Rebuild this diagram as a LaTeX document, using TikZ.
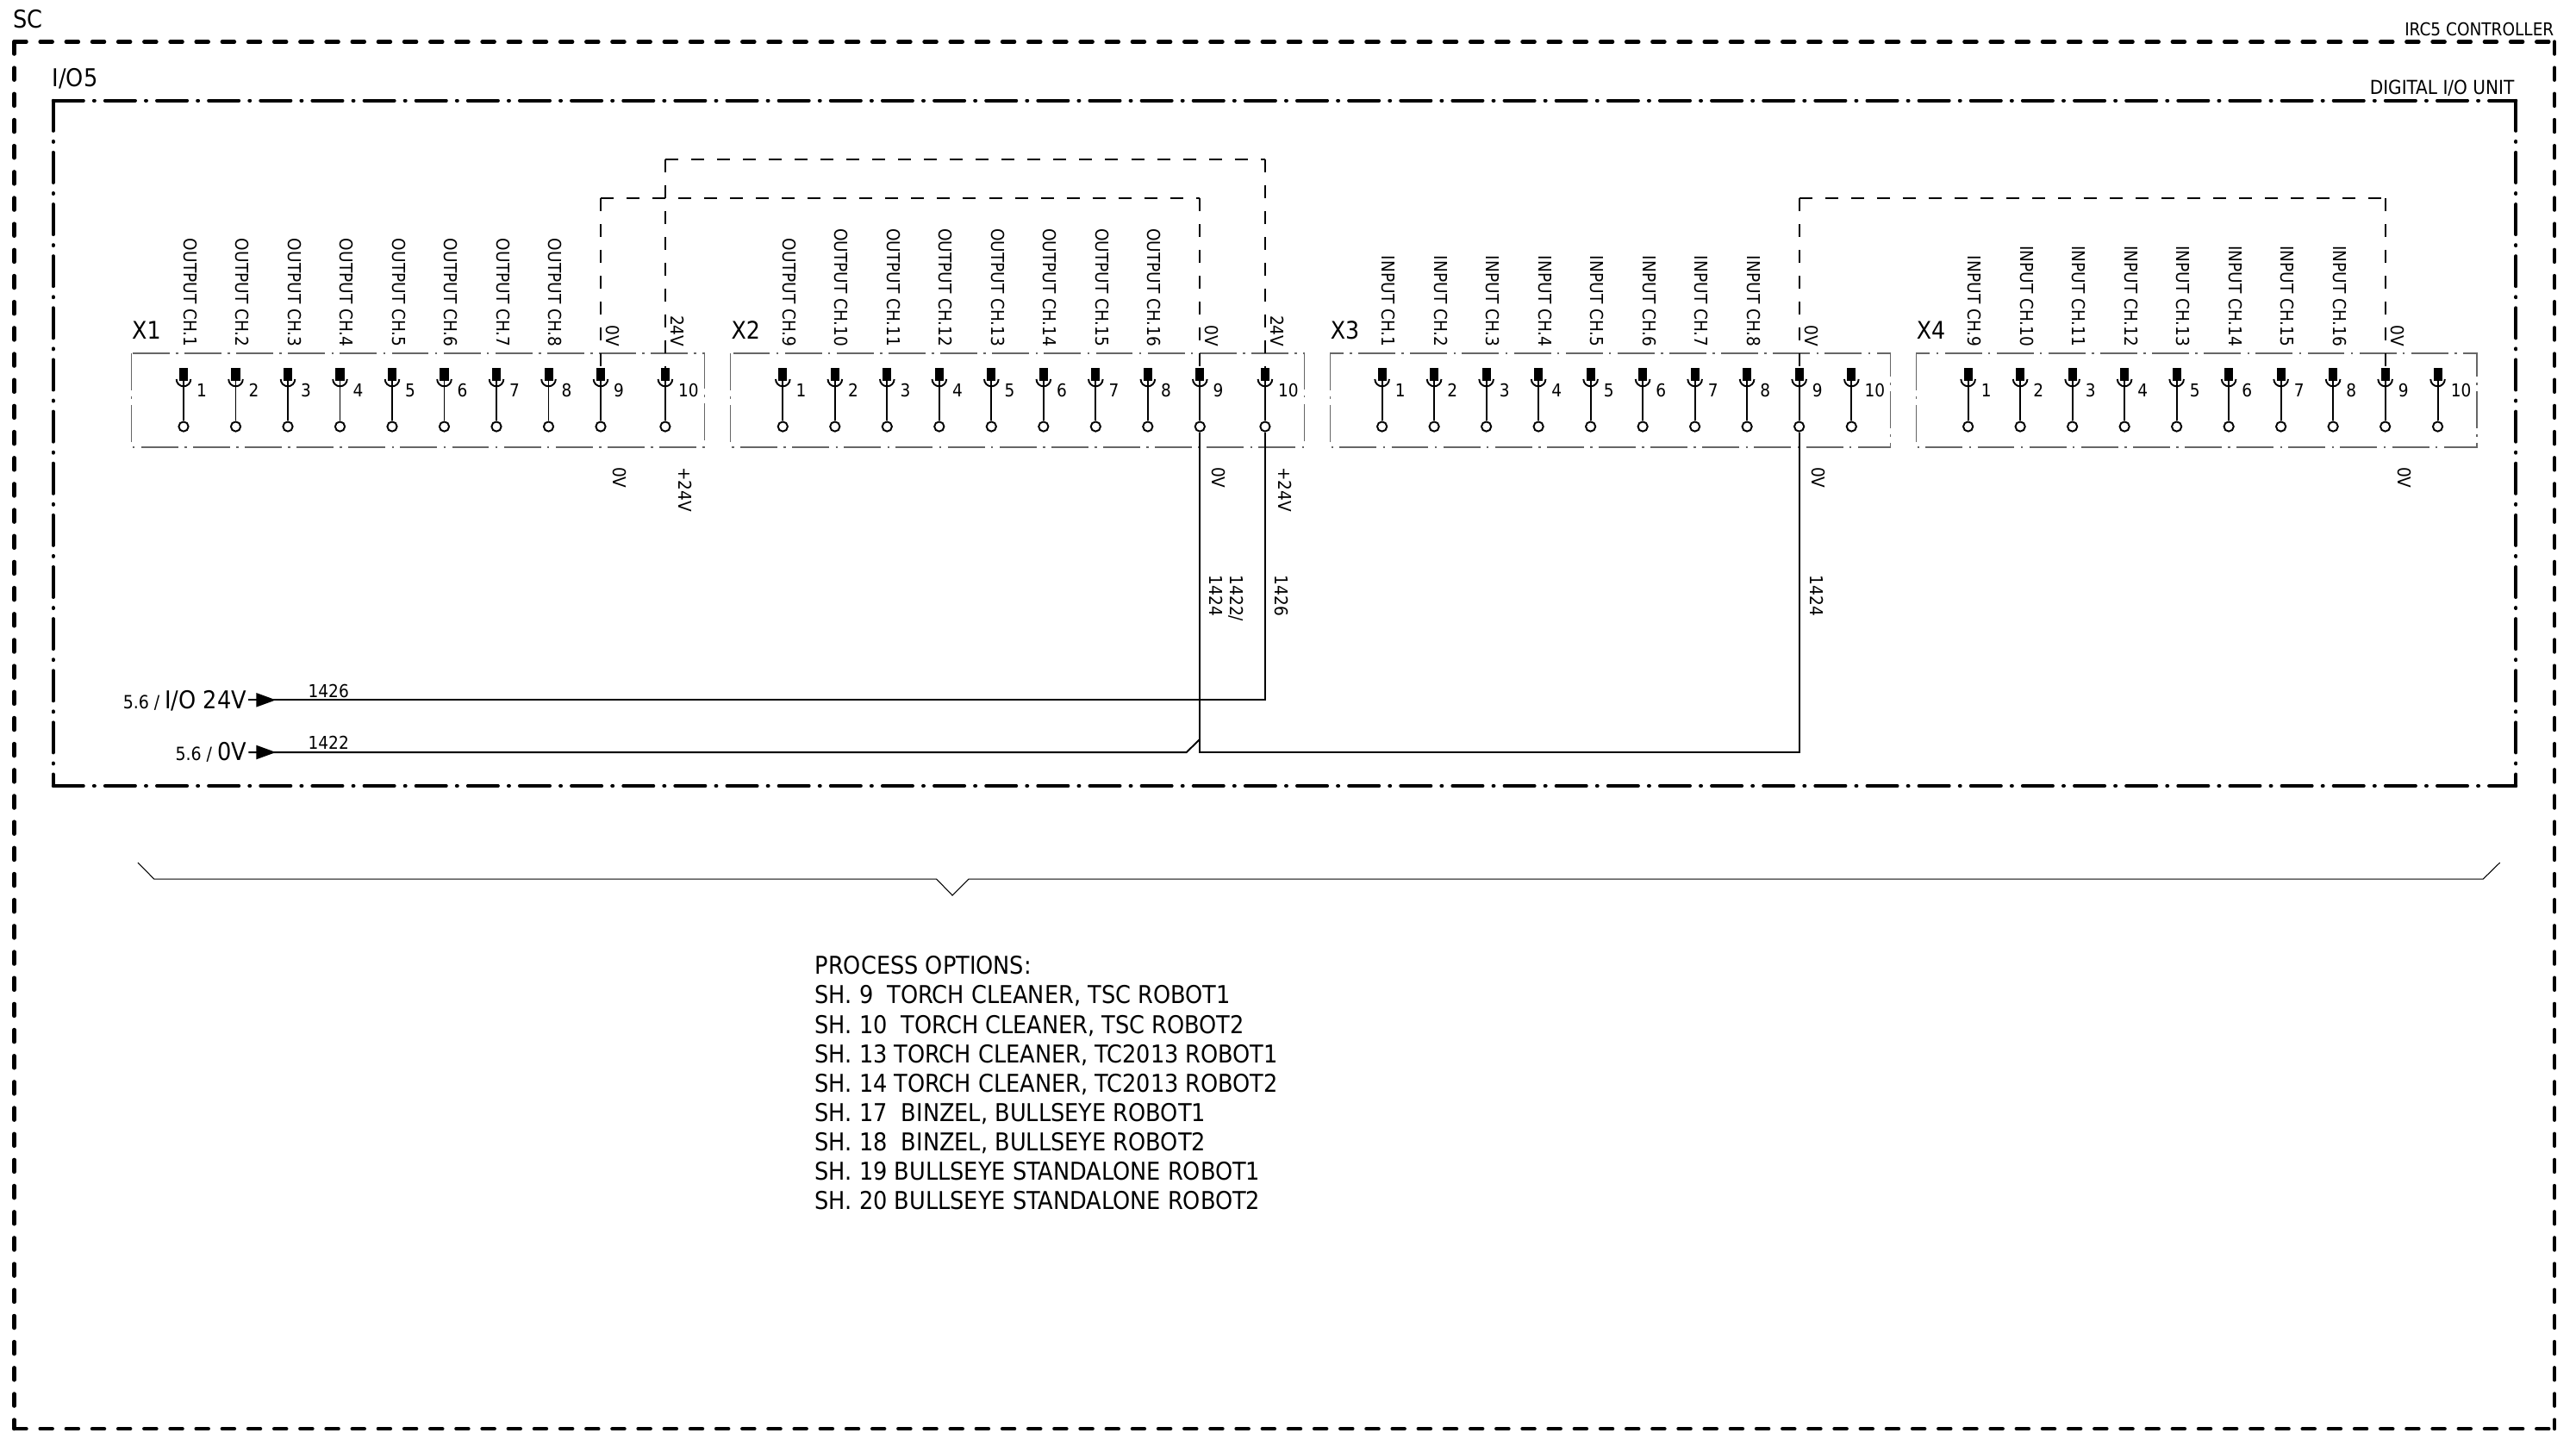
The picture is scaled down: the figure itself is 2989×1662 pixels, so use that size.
\documentclass[tikz,border=0pt]{standalone}
\usepackage{fontspec}
\setmainfont{DejaVu Sans Condensed}
\usetikzlibrary{calc}
\begin{document}
\begin{tikzpicture}[x=0.01cm,y=-0.01cm]
    \tikzstyle{framedash}=[line width=1.28pt, line cap=round, dash pattern=on 3.98pt off 4.6pt]
    \tikzstyle{framedot}=[line width=1.1pt, line cap=round, dash pattern=on 10pt off 3.4pt on 0.3pt off 3.4pt]
    \tikzstyle{stripbox}=[line width=0.35pt, draw=black!60, dash pattern=on 12.2pt off 2.1pt on 0.7pt off 2.1pt]
    \tikzstyle{jumper}=[line width=0.55pt, dash pattern=on 4.27pt off 4.27pt]
    \tikzstyle{wire}=[line width=0.55pt]
    \tikzstyle{small}=[inner sep=0pt, font=\fontsize{5.85pt}{6.6pt}\selectfont]
    \tikzstyle{big}=[inner sep=0pt, font=\fontsize{8.1pt}{9.7pt}\selectfont]
    \tikzstyle{turned}=[small, rotate=-90]
    \tikzstyle{pinhead}=[fill=black, inner sep=0pt, minimum width=2.85pt, minimum height=4.1pt]
    \tikzstyle{pinring}=[draw, circle, line width=0.55pt, fill=white, inner sep=0pt, minimum size=3.2pt]

    \useasboundingbox (0,0) rectangle (2989,1662);

    % Draw frames
    \coordinate (scTL) at (16.5,48.5);
    \coordinate (scTR) at (2964,48.5);
    \coordinate (scBR) at (2964,1658);
    \coordinate (scBL) at (16.5,1658);
    \coordinate (ioTL) at (61.7,116.7);
    \coordinate (ioTR) at (2919.3,116.7);
    \coordinate (ioBR) at (2919.3,912);
    \coordinate (ioBL) at (61.7,912);
    \foreach \a/\b in {scTL/scTR, scTR/scBR, scTL/scBL, scBL/scBR} {
        \draw[framedash] (\a) -- (\b);
    }
    \foreach \a/\b in {ioTL/ioTR, ioTR/ioBR, ioTL/ioBL, ioBL/ioBR} {
        \draw[framedot] (\a) -- (\b);
    }
    \node[big, anchor=base west] (sclabel) at (15,32) {SC};
    \node[big, anchor=base west] (iolabel) at (60,100) {I/O5};
    \node[small, anchor=base east] (sctitle) at (2964,41) {IRC5 CONTROLLER};
    \node[small, anchor=base east, font=\fontsize{6.35pt}{7pt}\selectfont] (iotitle) at (2918,109) {DIGITAL I/O UNIT};

    % Draw terminal strips
    \foreach \strip/\xa/\xb/\word/\ch in {X1/213/771.9/OUTPUT/0, X2/908.3/1467.9/OUTPUT/8, X3/1603.6/2148.3/INPUT/0, X4/2283.6/2828.5/INPUT/8} {
        \draw[stripbox] (\xa-60.5,410) rectangle (\xb+45.4,519);
        \node[big, anchor=base west, font=\fontsize{8pt}{9pt}\selectfont] (\strip-name) at (\xa-60.5,393) {\strip};
        \foreach \n in {1,...,10} {
            \pgfmathsetmacro{\tx}{\n<10 ? \xa+(\n-1)*60.5 : \xb}
            \node[pinhead] (\strip-head\n) at (\tx,434.5) {};
            \node[pinring] (\strip-ring\n) at (\tx,495) {};
            \draw[wire] (\tx-8.3,440) arc[start angle=180, end angle=360, x radius=8.3, y radius=-8.3];
            \draw[wire] (\strip-head\n.south) -- (\strip-ring\n.north);
            \node[small, anchor=west] (\strip-num\n) at (\tx+14.5,453) {\n};
        }
        \foreach \n in {1,...,8} {
            \pgfmathtruncatemacro{\c}{\n+\ch}
            \node[turned, anchor=east] (\strip-ch\n) at ($(\strip-head\n)+(7.5,-31.5)$) {\word\ CH.\c};
        }
        \node[turned, anchor=east] (\strip-top9) at ($(\strip-head9)+(14,-31.5)$) {0V};
        \node[turned, anchor=west] (\strip-low9) at ($(\strip-head9)+(22,107)$) {0V};
    }
    \foreach \strip in {X1,X2} {
        \node[turned, anchor=east] (\strip-top10) at ($(\strip-head10)+(14.7,-31.5)$) {24V};
        \node[turned, anchor=west] (\strip-low10) at ($(\strip-head10)+(23,107)$) {+24V};
    }

    % Add jumpers
    \coordinate (bus0V) at (0,230);
    \coordinate (bus24V) at (0,185);
    \coordinate (ja) at (X1-head9.north |- bus0V);
    \coordinate (jb) at (X2-head9.north |- bus0V);
    \coordinate (jc) at (X1-head10.north |- bus24V);
    \coordinate (jd) at (X2-head10.north |- bus24V);
    \coordinate (je) at (X3-head9.north |- bus0V);
    \coordinate (jf) at (X4-head9.north |- bus0V);
    \foreach \a/\b in {ja/X1-head9.north, ja/jb, jb/X2-head9.north, jc/X1-head10.north, jc/jd, jd/X2-head10.north, je/X3-head9.north, je/jf, jf/X4-head9.north} {
        \draw[jumper] (\a) -- (\b);
    }

    % Add supply feeds
    \coordinate (feed24) at (288.3,812.3);
    \coordinate (feed0) at (288.3,873);
    \coordinate (tip24) at (320,812.3);
    \coordinate (tip0) at (320,873);
    \coordinate (kinka) at (1376.7,873);
    \coordinate (kinkb) at (1392.3,857.7);
    \coordinate (kinkc) at (1392.3,873);
    \draw[wire] (feed24) -- (tip24) -- (X2-ring10.south |- tip24) -- (X2-ring10.south);
    \draw[wire] (feed0) -- (tip0) -- (kinka) -- (kinkb);
    \draw[wire] (X2-ring9.south) -- (kinkc) -- (X3-ring9.south |- kinkc) -- (X3-ring9.south);
    \fill (297.3,804) -- (tip24) -- (297.3,820.6) -- cycle;
    \fill (297.3,864.7) -- (tip0) -- (297.3,881.3) -- cycle;
    \node[big, anchor=base east] (io24) at (286.7,822.7) {{\fontsize{6pt}{6pt}\selectfont 5.6 / }I/O 24V};
    \node[big, anchor=base east] (io0) at (286.7,882.7) {{\fontsize{6pt}{6pt}\selectfont 5.6 / }0V};
    \node[small, anchor=base west] (w1426) at (357,809) {1426};
    \node[small, anchor=base west] (w1422) at (357,869) {1422};

    % Add wire numbers
    \node[turned, anchor=north west, align=left] (w1424a) at (1443,667) {1422/\\1424};
    \node[turned, anchor=north west] (w1426b) at (1495,667) {1426};
    \node[turned, anchor=north west] (w1424b) at (2116,667) {1424};

    % Add brace
    \coordinate (bracea) at (160,1001);
    \coordinate (braceb) at (178.7,1020);
    \coordinate (bracec) at (1086.5,1020);
    \coordinate (braced) at (1105,1039);
    \coordinate (bracee) at (1124,1020);
    \coordinate (bracef) at (2881.3,1020);
    \coordinate (braceg) at (2900.7,1001);
    \draw[line width=0.3pt] (bracea) -- (braceb) -- (bracec) -- (braced) -- (bracee) -- (bracef) -- (braceg);

    % Add process list
    \node[big, anchor=north west, align=left] (options) at (945,1109) {PROCESS OPTIONS:\\
        SH. 9\ \ TORCH CLEANER, TSC ROBOT1\\
        SH. 10\ \ TORCH CLEANER, TSC ROBOT2\\
        SH. 13 TORCH CLEANER, TC2013 ROBOT1\\
        SH. 14 TORCH CLEANER, TC2013 ROBOT2\\
        SH. 17\ \ BINZEL, BULLSEYE ROBOT1\\
        SH. 18\ \ BINZEL, BULLSEYE ROBOT2\\
        SH. 19 BULLSEYE STANDALONE ROBOT1\\
        SH. 20 BULLSEYE STANDALONE ROBOT2};
\end{tikzpicture}
\end{document}
